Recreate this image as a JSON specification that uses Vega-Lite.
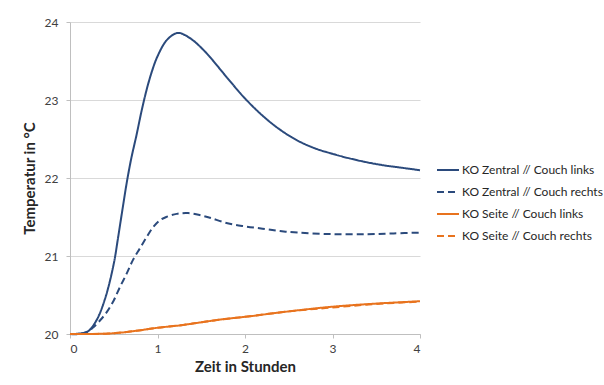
{
  "$schema": "https://vega.github.io/schema/vega-lite/v6.json",
  "autosize": "none",
  "width": 350,
  "height": 312,
  "padding": {"left": 70, "top": 22, "right": 184, "bottom": 51},
  "background": "white",
  "config": {
    "font": "Lato",
    "view": {"stroke": null},
    "axis": {"labelFont": "Lato", "titleFont": "Lato", "labelColor": "#404040", "titleColor": "#262626", "labelFontSize": 12, "titleFontSize": 15, "titleFontWeight": "bold", "gridColor": "#d9d9d9", "domainColor": "#bfbfbf", "tickColor": "#bfbfbf", "tickSize": 4}
  },
  "data": {"values": [
    {"s": "KO Zentral // Couch links", "x": 0, "y": 20.0},
    {"s": "KO Zentral // Couch links", "x": 0.1, "y": 20.005},
    {"s": "KO Zentral // Couch links", "x": 0.2, "y": 20.03},
    {"s": "KO Zentral // Couch links", "x": 0.3, "y": 20.17},
    {"s": "KO Zentral // Couch links", "x": 0.4, "y": 20.45},
    {"s": "KO Zentral // Couch links", "x": 0.5, "y": 20.9},
    {"s": "KO Zentral // Couch links", "x": 0.55, "y": 21.24},
    {"s": "KO Zentral // Couch links", "x": 0.6, "y": 21.6},
    {"s": "KO Zentral // Couch links", "x": 0.65, "y": 21.95},
    {"s": "KO Zentral // Couch links", "x": 0.7, "y": 22.25},
    {"s": "KO Zentral // Couch links", "x": 0.76, "y": 22.55},
    {"s": "KO Zentral // Couch links", "x": 0.82, "y": 22.87},
    {"s": "KO Zentral // Couch links", "x": 0.88, "y": 23.15},
    {"s": "KO Zentral // Couch links", "x": 0.94, "y": 23.38},
    {"s": "KO Zentral // Couch links", "x": 1.0, "y": 23.56},
    {"s": "KO Zentral // Couch links", "x": 1.1, "y": 23.76},
    {"s": "KO Zentral // Couch links", "x": 1.2, "y": 23.85},
    {"s": "KO Zentral // Couch links", "x": 1.25, "y": 23.86},
    {"s": "KO Zentral // Couch links", "x": 1.3, "y": 23.84},
    {"s": "KO Zentral // Couch links", "x": 1.4, "y": 23.77},
    {"s": "KO Zentral // Couch links", "x": 1.5, "y": 23.67},
    {"s": "KO Zentral // Couch links", "x": 1.6, "y": 23.55},
    {"s": "KO Zentral // Couch links", "x": 1.8, "y": 23.28},
    {"s": "KO Zentral // Couch links", "x": 2.0, "y": 23.02},
    {"s": "KO Zentral // Couch links", "x": 2.2, "y": 22.8},
    {"s": "KO Zentral // Couch links", "x": 2.4, "y": 22.62},
    {"s": "KO Zentral // Couch links", "x": 2.6, "y": 22.48},
    {"s": "KO Zentral // Couch links", "x": 2.8, "y": 22.38},
    {"s": "KO Zentral // Couch links", "x": 3.0, "y": 22.31},
    {"s": "KO Zentral // Couch links", "x": 3.2, "y": 22.25},
    {"s": "KO Zentral // Couch links", "x": 3.4, "y": 22.2},
    {"s": "KO Zentral // Couch links", "x": 3.6, "y": 22.16},
    {"s": "KO Zentral // Couch links", "x": 3.8, "y": 22.13},
    {"s": "KO Zentral // Couch links", "x": 4.0, "y": 22.1},
    {"s": "KO Zentral // Couch rechts", "x": 0, "y": 20.0},
    {"s": "KO Zentral // Couch rechts", "x": 0.1, "y": 20.0},
    {"s": "KO Zentral // Couch rechts", "x": 0.2, "y": 20.03},
    {"s": "KO Zentral // Couch rechts", "x": 0.26, "y": 20.08},
    {"s": "KO Zentral // Couch rechts", "x": 0.34, "y": 20.17},
    {"s": "KO Zentral // Couch rechts", "x": 0.42, "y": 20.28},
    {"s": "KO Zentral // Couch rechts", "x": 0.5, "y": 20.43},
    {"s": "KO Zentral // Couch rechts", "x": 0.57, "y": 20.6},
    {"s": "KO Zentral // Couch rechts", "x": 0.65, "y": 20.78},
    {"s": "KO Zentral // Couch rechts", "x": 0.72, "y": 20.95},
    {"s": "KO Zentral // Couch rechts", "x": 0.8, "y": 21.1},
    {"s": "KO Zentral // Couch rechts", "x": 0.88, "y": 21.25},
    {"s": "KO Zentral // Couch rechts", "x": 0.95, "y": 21.37},
    {"s": "KO Zentral // Couch rechts", "x": 1.03, "y": 21.46},
    {"s": "KO Zentral // Couch rechts", "x": 1.1, "y": 21.5},
    {"s": "KO Zentral // Couch rechts", "x": 1.22, "y": 21.54},
    {"s": "KO Zentral // Couch rechts", "x": 1.35, "y": 21.55},
    {"s": "KO Zentral // Couch rechts", "x": 1.5, "y": 21.52},
    {"s": "KO Zentral // Couch rechts", "x": 1.6, "y": 21.49},
    {"s": "KO Zentral // Couch rechts", "x": 1.8, "y": 21.42},
    {"s": "KO Zentral // Couch rechts", "x": 2.0, "y": 21.38},
    {"s": "KO Zentral // Couch rechts", "x": 2.2, "y": 21.35},
    {"s": "KO Zentral // Couch rechts", "x": 2.4, "y": 21.32},
    {"s": "KO Zentral // Couch rechts", "x": 2.6, "y": 21.3},
    {"s": "KO Zentral // Couch rechts", "x": 3.0, "y": 21.28},
    {"s": "KO Zentral // Couch rechts", "x": 3.4, "y": 21.28},
    {"s": "KO Zentral // Couch rechts", "x": 3.7, "y": 21.29},
    {"s": "KO Zentral // Couch rechts", "x": 4.0, "y": 21.3},
    {"s": "KO Seite // Couch links", "x": 0, "y": 20.0},
    {"s": "KO Seite // Couch links", "x": 0.25, "y": 20.0},
    {"s": "KO Seite // Couch links", "x": 0.5, "y": 20.01},
    {"s": "KO Seite // Couch links", "x": 0.75, "y": 20.04},
    {"s": "KO Seite // Couch links", "x": 1.0, "y": 20.08},
    {"s": "KO Seite // Couch links", "x": 1.25, "y": 20.11},
    {"s": "KO Seite // Couch links", "x": 1.5, "y": 20.15},
    {"s": "KO Seite // Couch links", "x": 1.75, "y": 20.19},
    {"s": "KO Seite // Couch links", "x": 2.0, "y": 20.22},
    {"s": "KO Seite // Couch links", "x": 2.5, "y": 20.29},
    {"s": "KO Seite // Couch links", "x": 3.0, "y": 20.35},
    {"s": "KO Seite // Couch links", "x": 3.5, "y": 20.39},
    {"s": "KO Seite // Couch links", "x": 4.0, "y": 20.42},
    {"s": "KO Seite // Couch rechts", "x": 0, "y": 20.0},
    {"s": "KO Seite // Couch rechts", "x": 0.25, "y": 20.0},
    {"s": "KO Seite // Couch rechts", "x": 0.5, "y": 20.01},
    {"s": "KO Seite // Couch rechts", "x": 0.75, "y": 20.04},
    {"s": "KO Seite // Couch rechts", "x": 1.0, "y": 20.08},
    {"s": "KO Seite // Couch rechts", "x": 1.25, "y": 20.11},
    {"s": "KO Seite // Couch rechts", "x": 1.5, "y": 20.15},
    {"s": "KO Seite // Couch rechts", "x": 1.75, "y": 20.19},
    {"s": "KO Seite // Couch rechts", "x": 2.0, "y": 20.22},
    {"s": "KO Seite // Couch rechts", "x": 2.5, "y": 20.29},
    {"s": "KO Seite // Couch rechts", "x": 3.0, "y": 20.34},
    {"s": "KO Seite // Couch rechts", "x": 3.5, "y": 20.385},
    {"s": "KO Seite // Couch rechts", "x": 4.0, "y": 20.415}
  ]},
  "mark": {"type": "line", "interpolate": "catmull-rom", "strokeWidth": 2},
  "encoding": {
    "x": {"field": "x", "type": "quantitative", "title": "Zeit in Stunden",
      "scale": {"domain": [0, 4], "nice": false},
      "axis": {"values": [0, 1, 2, 3, 4], "format": "d", "grid": false, "labelPadding": 5, "titlePadding": 5}},
    "y": {"field": "y", "type": "quantitative", "title": "Temperatur in °C",
      "scale": {"domain": [20, 24], "nice": false, "zero": false},
      "axis": {"values": [20, 21, 22, 23, 24], "format": "d", "labelPadding": 8, "titlePadding": 7}},
    "color": {"field": "s", "type": "nominal", "title": null,
      "sort": ["KO Zentral // Couch links", "KO Zentral // Couch rechts", "KO Seite // Couch links", "KO Seite // Couch rechts"],
      "scale": {"domain": ["KO Zentral // Couch links", "KO Zentral // Couch rechts", "KO Seite // Couch links", "KO Seite // Couch rechts"],
        "range": ["#2B4A7C", "#2B4A7C", "#E8731E", "#E8731E"]},
      "legend": {"orient": "none", "legendX": 366, "legendY": 136, "symbolType": "stroke", "symbolSize": 484, "symbolStrokeWidth": 2, "labelFont": "Lato", "labelFontSize": 12, "labelLimit": 300, "labelColor": "#262626", "labelOffset": 2, "rowPadding": 4}},
    "strokeDash": {"field": "s", "type": "nominal", "title": null,
      "sort": ["KO Zentral // Couch links", "KO Zentral // Couch rechts", "KO Seite // Couch links", "KO Seite // Couch rechts"],
      "scale": {"domain": ["KO Zentral // Couch links", "KO Zentral // Couch rechts", "KO Seite // Couch links", "KO Seite // Couch rechts"],
        "range": [[1, 0], [7, 4], [1, 0], [7, 4]]}}
  }
}
